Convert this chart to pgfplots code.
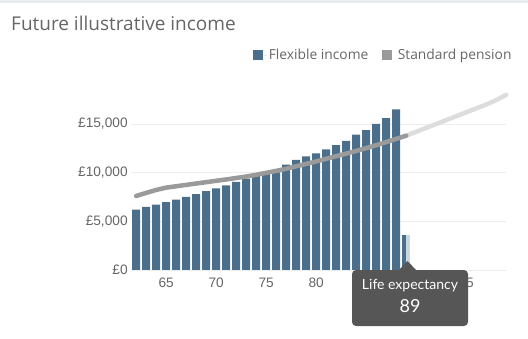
\documentclass[border=0pt]{standalone}
\usepackage{pgfplots}
\usepackage{pgfplotstable}
\pgfplotsset{compat=1.18}
\usepackage{fontspec}
\setmainfont{Open Sans}
\newfontfamily\tickfont{Liberation Sans}
\newfontfamily\tipfont{Lato}
\definecolor{barc}{HTML}{4B6F8A}
\definecolor{barlight}{HTML}{C9D7E1}
\definecolor{linec}{HTML}{9A9A9A}
\definecolor{linelight}{HTML}{DDDDDD}
\definecolor{gridc}{HTML}{EDEDED}
\definecolor{txt}{HTML}{666666}
\definecolor{tipc}{HTML}{565656}
\definecolor{band}{HTML}{E8EBF0}

\pgfplotstableread{
age income
62 6200
63 6470
64 6700
65 6960
66 7230
67 7500
68 7780
69 8100
70 8370
71 8700
72 9040
73 9380
74 9660
75 9840
76 10020
77 10820
78 11300
79 11680
80 11970
81 12400
82 12830
83 13260
84 13900
85 14360
86 15000
87 15600
88 16500
}\flex

\pgfplotstableread{
age pension
62 7600
63 7920
64 8220
65 8460
66 8600
67 8740
68 8880
69 9020
70 9160
71 9300
72 9450
73 9600
74 9780
75 9980
76 10180
77 10400
78 10650
79 10900
80 11150
81 11420
82 11690
83 11960
84 12230
85 12520
86 12820
87 13140
88 13470
89 13800
}\pens

\pgfplotstableread{
age pension
89 13800
90 14200
91 14600
92 15000
93 15400
94 15800
95 16200
96 16600
97 17000
98 17450
99 18000
}\penslight

\begin{document}
\begin{tikzpicture}[x=1pt,y=1pt]
\path[use as bounding box] (0,0) rectangle (528,338);
\fill[band] (0,334.5) rectangle (528,338);
\node[anchor=base west, inner sep=0, font=\fontsize{19}{22}\selectfont, text=txt] at (11,307.5) {Future illustrative income};
\begin{axis}[
  at={(131.2,70)}, anchor=south west, scale only axis,
  width=375pt, height=175.1pt,
  xmin=61.5, xmax=99, ymin=0, ymax=18000,
  clip=false,
  axis line style={draw=none},
  major tick length=0pt,
  scaled y ticks=false,
  xtick={65,70,75,80,95},
  xticklabels={65,70,75,80,95},
  ytick={0,5000,10000,15000},
  yticklabels={{£0},{£5,000},{£10,000},{£15,000}},
  ymajorgrids,
  grid style={gridc, line width=0.8pt},
  tick label style={font=\tickfont\fontsize{13.7}{15}\selectfont, text=txt},
  xticklabel style={yshift=-4.5pt},
  legend columns=2,
  legend style={at={(1.02,1.274)}, anchor=north east, draw=none, fill=none,
    inner sep=0pt, font=\fontsize{13.8}{15}\selectfont, text=txt,
    /tikz/every even column/.append style={column sep=12pt}},
]
\addplot[ybar, bar width=8pt, fill=barc, draw=none,
  legend image code/.code={\fill[barc] (0pt,-4.5pt) rectangle (9.5pt,5pt); \path[draw=none] (0pt,0pt) -- (13.5pt,0pt);}]
  table[x=age, y=income] {\flex};
\addlegendentry{Flexible income}
\addplot[ybar, bar width=8pt, fill=barlight, draw=none, forget plot] coordinates {(89,3630)};
\addplot[ybar, bar width=3.6pt, bar shift=-2.2pt, fill=barc, draw=none, forget plot] coordinates {(89,3630)};
\addplot[linelight, line width=4.5pt, line cap=round, forget plot] table[x=age, y=pension] {\penslight};
\addplot[linec, line width=4.5pt, line cap=round,
  legend image code/.code={\fill[linec, draw=none] (0pt,-4.5pt) rectangle (9.5pt,5pt); \path[draw=none] (0pt,0pt) -- (13.5pt,0pt);}]
  table[x=age, y=pension] {\pens};
\addlegendentry{Standard pension}
\end{axis}
\fill[tipc, rounded corners=4pt] (352,12) rectangle (468,68);
\fill[tipc] (398,67) -- (407.5,77) -- (417,67) -- cycle;
\node[text=white, font=\tipfont\fontsize{14}{16}\selectfont] at (410,52) {Life expectancy};
\node[text=white, font=\tipfont\fontsize{18}{20}\selectfont] at (410,31.5) {89};
\end{tikzpicture}
\end{document}
